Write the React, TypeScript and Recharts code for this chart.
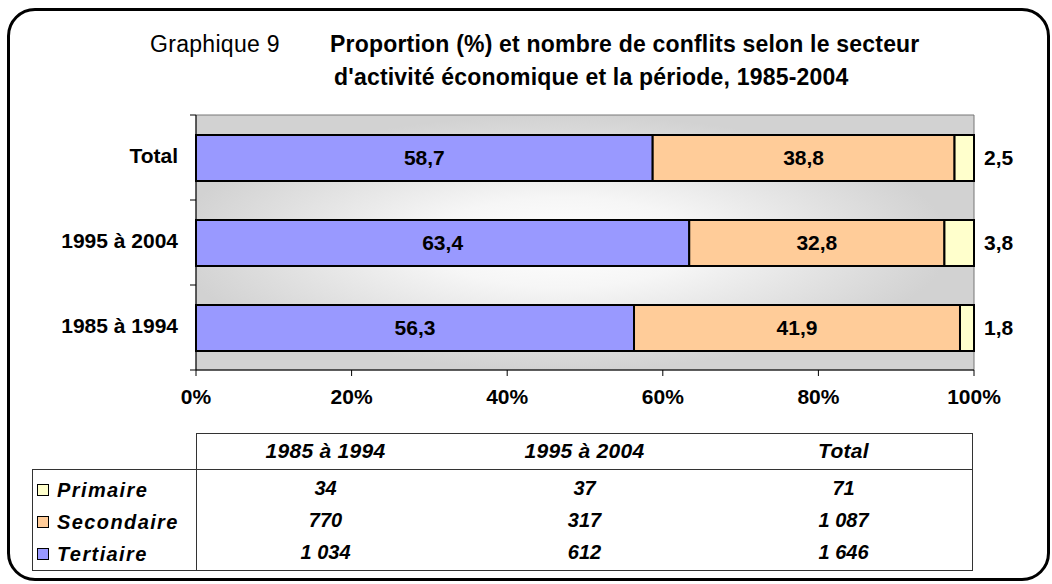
import React from 'react';
import { BarChart, Bar, XAxis, YAxis, CartesianGrid, ReferenceArea, LabelList } from 'recharts';

const categories = ['Total', '1995 à 2004', '1985 à 1994'];
const tertiaire = [58.7, 63.4, 56.3];
const secondaire = [38.8, 32.8, 41.9];
const primaire = [2.5, 3.8, 1.8];
const xTicks = [0, 20, 40, 60, 80, 100];

const tablePeriods = ['1985 à 1994', '1995 à 2004', 'Total'];
const countsPrimaire = ['34', '37', '71'];
const countsSecondaire = ['770', '317', '1 087'];
const countsTertiaire = ['1 034', '612', '1 646'];

const COLORS = { tertiaire: '#9999FF', secondaire: '#FFCC99', primaire: '#FFFFCC' };

const W = 1052;
const CHART_H = 430;
const PLOT_LEFT = 196;
const PLOT_TOP = 115;
const PLOT_H = 255;
const FONT = 'Arial, "Liberation Sans", Helvetica, sans-serif';

const chartData = categories.map((cat, i) => ({
  cat,
  tertiaire: tertiaire[i],
  secondaire: secondaire[i],
  primaire: primaire[i],
}));

const fmt = (v: any) => Number(v).toFixed(1).replace('.', ',');

const band = PLOT_H / categories.length;

function CatTick(props: any) {
  const { y, payload, index } = props;
  return (
    <g>
      <text
        x={PLOT_LEFT - 18}
        y={y - 2}
        textAnchor="end"
        dominantBaseline="central"
        fontFamily={FONT}
        fontWeight="bold"
        fontSize={21}
        fill="#000"
      >
        {payload.value}
      </text>
      <line x1={PLOT_LEFT - 6} x2={PLOT_LEFT} y1={y - band / 2} y2={y - band / 2} stroke="#000" />
      {index === categories.length - 1 && (
        <line x1={PLOT_LEFT - 6} x2={PLOT_LEFT} y1={y + band / 2} y2={y + band / 2} stroke="#000" />
      )}
    </g>
  );
}

const cellText: React.CSSProperties = {
  position: 'absolute',
  width: 259,
  textAlign: 'center',
  fontFamily: FONT,
  fontWeight: 'bold',
  fontStyle: 'italic',
  fontSize: 20,
  lineHeight: '22px',
  color: '#000',
};

function DataTable() {
  const colLeft = 196;
  const colW = 259;
  const rows = [
    { name: 'Primaire', color: COLORS.primaire, vals: countsPrimaire },
    { name: 'Secondaire', color: COLORS.secondaire, vals: countsSecondaire },
    { name: 'Tertiaire', color: COLORS.tertiaire, vals: countsTertiaire },
  ];
  return (
    <>
      {/* header box */}
      <div style={{ position: 'absolute', left: 196, top: 433, width: 777, height: 36, border: '1px solid #333', borderBottom: 'none', boxSizing: 'border-box' }} />
      {/* body box */}
      <div style={{ position: 'absolute', left: 32, top: 469, width: 941, height: 102, border: '1px solid #333', boxSizing: 'border-box' }} />
      <div style={{ position: 'absolute', left: 196, top: 469, width: 1, height: 102, background: '#333' }} />
      {tablePeriods.map((p, i) => (
        <div key={p} style={{ ...cellText, left: colLeft + i * colW, top: 440, fontSize: 21, letterSpacing: 0.3 }}>{p}</div>
      ))}
      {rows.map((r, ri) => (
        <React.Fragment key={r.name}>
          <div style={{ position: 'absolute', left: 37, top: 484 + ri * 32, width: 10, height: 10, background: r.color, border: '1.5px solid #000' }} />
          <div style={{ ...cellText, width: 150, textAlign: 'left', left: 57, top: 479 + ri * 32, letterSpacing: 1.4 }}>{r.name}</div>
          {r.vals.map((v, ci) => (
            <div key={ci} style={{ ...cellText, left: colLeft + ci * colW, top: 477 + ri * 32 }}>{v}</div>
          ))}
        </React.Fragment>
      ))}
    </>
  );
}

export default function App() {
  return (
    <div style={{ position: 'absolute', left: 0, top: 0, width: W, height: 584, background: '#fff', overflow: 'hidden' }}>
      <div style={{ position: 'absolute', left: 7, top: 8, width: 1043, height: 573, border: '3px solid #000', borderRadius: 28, boxSizing: 'border-box' }} />
      <div style={{ position: 'absolute', left: 150, top: 31, fontFamily: FONT, fontSize: 23, color: '#000', letterSpacing: 0.3, whiteSpace: 'nowrap' }}>Graphique 9</div>
      <div style={{ position: 'absolute', left: 330, top: 28, fontFamily: FONT, fontSize: 23, fontWeight: 'bold', color: '#000', lineHeight: '33px', whiteSpace: 'nowrap' }}>
        <div style={{ letterSpacing: 0.2 }}>Proportion (%) et nombre de conflits selon le secteur</div>
        <div style={{ marginLeft: 4, letterSpacing: 0.2 }}>d'activité économique et la période, 1985-2004</div>
      </div>

      <div style={{ position: 'absolute', left: 0, top: 0 }}>
        <BarChart
          width={W}
          height={CHART_H}
          data={chartData}
          layout="vertical"
          margin={{ top: PLOT_TOP, right: 78, bottom: CHART_H - PLOT_TOP - PLOT_H - 40, left: PLOT_LEFT - 180 }}
          barSize={46}
        >
          <defs>
            <radialGradient id="plotBg" cx="0.47" cy="0.5" r="0.5">
              <stop offset="0%" stopColor="#ffffff" />
              <stop offset="35%" stopColor="#f6f6f6" />
              <stop offset="100%" stopColor="#d2d2d2" />
            </radialGradient>
          </defs>
          <CartesianGrid horizontal={false} vertical={false} fill="url(#plotBg)" fillOpacity={1} />
          <ReferenceArea x1={0} x2={100} fill="none" stroke="#777" strokeWidth={1} ifOverflow="extendDomain" />
          <XAxis
            type="number"
            domain={[0, 100]}
            ticks={xTicks}
            tickFormatter={(v: number) => `${v}%`}
            axisLine={{ stroke: '#000' }}
            tickLine={{ stroke: '#000' }}
            tick={{ fill: '#000', fontFamily: FONT, fontWeight: 'bold', fontSize: 21 }}
            tickMargin={13}
            height={40}
            interval={0}
          />
          <YAxis
            type="category"
            dataKey="cat"
            width={180}
            axisLine={{ stroke: '#000' }}
            tickLine={false}
            tick={<CatTick />}
            interval={0}
          />
          <Bar dataKey="tertiaire" stackId="a" fill={COLORS.tertiaire} stroke="#000" strokeWidth={2} isAnimationActive={false}>
            <LabelList dataKey="tertiaire" position="center" formatter={fmt} fill="#000" fontFamily={FONT} fontWeight="bold" fontSize={21} />
          </Bar>
          <Bar dataKey="secondaire" stackId="a" fill={COLORS.secondaire} stroke="#000" strokeWidth={2} isAnimationActive={false}>
            <LabelList dataKey="secondaire" position="center" formatter={fmt} fill="#000" fontFamily={FONT} fontWeight="bold" fontSize={21} />
          </Bar>
          <Bar dataKey="primaire" stackId="a" fill={COLORS.primaire} stroke="#000" strokeWidth={2} isAnimationActive={false}>
            <LabelList dataKey="primaire" position="right" offset={10} formatter={fmt} fill="#000" fontFamily={FONT} fontWeight="bold" fontSize={21} />
          </Bar>
        </BarChart>
      </div>

      <DataTable />
    </div>
  );
}
